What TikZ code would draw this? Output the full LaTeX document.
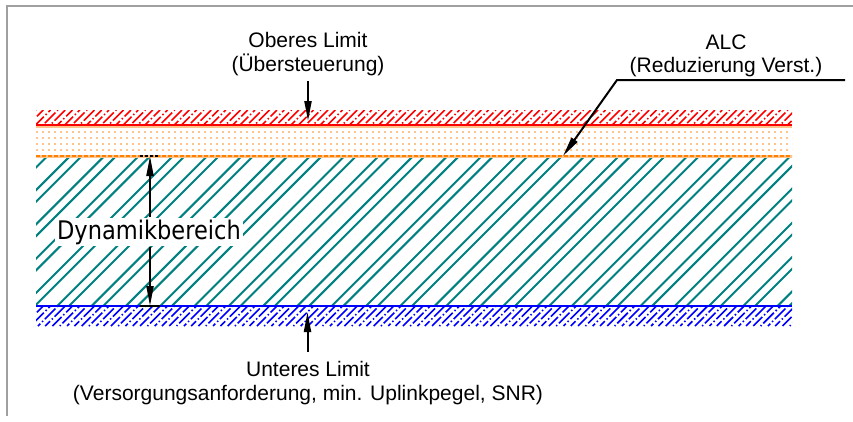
\documentclass[tikz,border=0pt]{standalone}
\usepackage{fontspec}
\setmainfont{Liberation Sans}
\newfontfamily\dynfont{DejaVu Sans}[FakeStretch=0.88]
\usetikzlibrary{arrows.meta}
\definecolor{teal1}{RGB}{0,128,128}
\definecolor{lorange}{RGB}{255,196,140}
\definecolor{dorange}{RGB}{255,128,0}
\definecolor{framegrey}{RGB}{160,160,160}
\begin{document}
\begin{tikzpicture}[x=1pt,y=-1pt,
  lbl/.style={font=\fontsize{21}{24}\selectfont, inner sep=0pt, anchor=base},
  arr/.style={line width=2pt, -{Triangle[length=20pt,width=7pt]}},
  tealhatch/.style={teal1, line width=2pt},
  redhatch/.style={red, line width=1.6pt},
  bluehatch/.style={blue, line width=1.6pt},
  dotrow/.style={lorange, line width=2pt, dash pattern=on 2pt off 4pt}]
\useasboundingbox (0,0) rectangle (853,421);
% frame
\draw[framegrey, line width=2.5pt] (7,416) -- (7,6) -- (853,6);
% teal hatch
\begin{scope}
\clip (36,156) rectangle (792,306);
\foreach \k in {-6,...,22} {
  \pgfmathsetmacro\ca{363.3+34.3*\k}
  \pgfmathsetmacro\cb{375+34.3*\k}
  \draw[tealhatch] (\ca-156,156) -- (\ca-306,306);
  \draw[tealhatch] (\cb-156,156) -- (\cb-306,306);
}
\end{scope}
% red hatch
\begin{scope}
\clip (36,110) rectangle (792,125);
\foreach \k in {0,...,107} {
  \pgfmathsetmacro\c{146+7.3*\k}
  \pgfmathsetmacro\ph{mod(\k,4)*6}
  \draw[redhatch, dash pattern=on 15pt off 2.5pt on 1.5pt off 2.5pt, dash phase=\ph pt] (\c-110,110) -- (\c-125,125);
}
\end{scope}
\draw[red, line width=1.8pt] (36,125) -- (792,125);
% orange dotted band
\draw[lorange, line width=1.5pt] (36,127) -- (792,127);
\foreach \yy in {132,138,144,150} {
  \draw[dotrow] (36,\yy) -- (792,\yy);
}
\draw[lorange, line width=3pt] (36,156) -- (792,156);
\draw[dorange, line width=2pt, dash pattern=on 4pt off 2pt] (36,156) -- (792,156);
% blue hatch
\begin{scope}
\clip (36,306) rectangle (792,326);
\foreach \k in {0,...,108} {
  \pgfmathsetmacro\c{342+7.3*\k}
  \pgfmathsetmacro\ph{mod(\k,4)*6}
  \draw[bluehatch, dash pattern=on 15pt off 2.5pt on 1.5pt off 2.5pt, dash phase=\ph pt] (\c-306,306) -- (\c-326,326);
}
\end{scope}
\draw[blue, line width=2.5pt] (36,306) -- (792,306);
% ticks at dimension ends
\draw[black, line width=2pt, dash pattern=on 3pt off 2pt] (140,156) -- (160,156);
\draw[black, line width=2pt] (140,306) -- (160,306);
% labels
\node[lbl] (ob1) at (308,47) {Oberes Limit};
\node[lbl] (ob2) at (308,71.5) {(Übersteuerung)};
\node[lbl] (alc1) at (726,49) {ALC};
\node[lbl] (alc2) at (726,72.7) {(Reduzierung Verst.)};
\node[lbl] (un1) at (308,376.5) {Unteres Limit};
\node[lbl] (un2) at (308,400) {(Versorgungsanforderung, min. Uplinkpegel, SNR)};
\node[fill=white, inner sep=2pt, anchor=base, font=\dynfont\fontsize{25.6}{30}\selectfont] (dyn) at (149,239) {Dynamikbereich};
% arrows
\coordinate (obstart) at (308,81);
\coordinate (obtip) at (308,121);
\draw[arr] (obstart) -- (obtip);
\coordinate (unstart) at (307.5,352);
\coordinate (untip) at (307.5,312);
\draw[arr] (unstart) -- (untip);
\coordinate (alcR) at (845,80);
\coordinate (alcK) at (617,80);
\coordinate (alcTip) at (563,156);
\draw[arr] (alcR) -- (alcK) -- (alcTip);
\coordinate (dtop) at (150,156);
\coordinate (dbot) at (150,306);
\draw[arr] (dyn.north -| dtop) -- (dtop);
\draw[arr] (dyn.south -| dtop) -- (dbot);
\end{tikzpicture}
\end{document}
